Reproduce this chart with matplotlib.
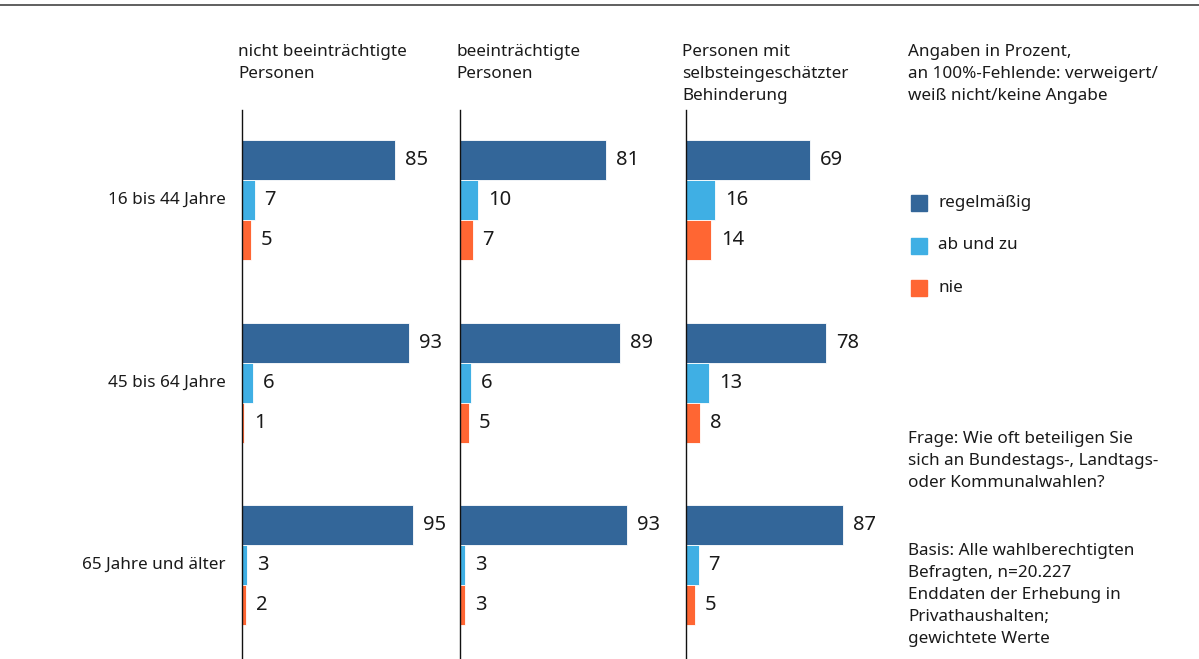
import matplotlib
matplotlib.use("Agg")
import matplotlib.pyplot as plt
from matplotlib.patches import Rectangle
from matplotlib.lines import Line2D

plt.rcParams["font.family"] = ["Noto Sans", "DejaVu Sans"]

altersgruppen = ["16 bis 44 Jahre", "45 bis 64 Jahre", "65 Jahre und älter"]
gruppen = ["nicht beeinträchtigte\nPersonen",
           "beeinträchtigte\nPersonen",
           "Personen mit\nselbsteingeschätzter\nBehinderung"]
kategorien = ["regelmäßig", "ab und zu", "nie"]

# Werte je Gruppe: [Altersgruppe][Kategorie]
nicht_beeintraechtigt = [[85, 7, 5], [93, 6, 1], [95, 3, 2]]
beeintraechtigt = [[81, 10, 7], [89, 6, 5], [93, 3, 3]]
behinderung = [[69, 16, 14], [78, 13, 8], [87, 7, 5]]
werte = [nicht_beeintraechtigt, beeintraechtigt, behinderung]

farben = ["#336699", "#3FAFE4", "#FF6633"]
textfarbe = "#1a1a1a"
fs = 12.3
ls = 1.49

W, H = 1199, 659
fig = plt.figure(figsize=(W / 100, H / 100), dpi=100)

# Linie oben
fig.add_artist(Line2D([0, 1], [1 - 5 / H, 1 - 5 / H], color="#444444", lw=1.2))

ax_links = [242, 460, 686]
px_pro_prozent = 1.8
ax_breite = 200
ax_oben, ax_unten = 110, H

bar_h = 40
gruppen_abstand = 182.5
erste_mitte = 200

for g, (x0, daten) in enumerate(zip(ax_links, werte)):
    ax = fig.add_axes([x0 / W, 1 - ax_unten / H, ax_breite / W, (ax_unten - ax_oben) / H])
    ax.set_xlim(0, ax_breite / px_pro_prozent)
    ax.set_ylim(ax_unten, ax_oben)
    ax.patch.set_alpha(0)
    for s in ["top", "right", "bottom"]:
        ax.spines[s].set_visible(False)
    ax.spines["left"].set_color("#111111")
    ax.spines["left"].set_linewidth(1.0)
    ax.set_xticks([])
    ax.set_yticks([])

    for a, reihe in enumerate(daten):
        mitte = erste_mitte + a * gruppen_abstand
        for k, v in enumerate(reihe):
            y = mitte + (k - 1) * bar_h
            ax.barh(y, v, height=bar_h, color=farben[k], edgecolor="white", linewidth=0.6)
            ax.text(v + 10 / px_pro_prozent, y, str(v), va="center", ha="left",
                    fontsize=14.5, color=textfarbe)
        if g == 0:
            ax.text(-16 / px_pro_prozent, mitte, altersgruppen[a], ha="right", va="center",
                    fontsize=fs, color=textfarbe, clip_on=False)

    fig.text((x0 - 4) / W, 1 - 44 / H, gruppen[g], ha="left", va="top",
             fontsize=fs, color=textfarbe, linespacing=ls)

fig.text(908 / W, 1 - 44 / H,
         "Angaben in Prozent,\nan 100%-Fehlende: verweigert/\nweiß nicht/keine Angabe",
         ha="left", va="top", fontsize=fs, color=textfarbe, linespacing=ls)

# Legende
for k, name in enumerate(kategorien):
    yc = 203 + k * 42.5
    fig.add_artist(Rectangle((911 / W, 1 - (yc + 8) / H), 16 / W, 16 / H,
                             transform=fig.transFigure, color=farben[k]))
    fig.text(938 / W, 1 - yc / H, name, ha="left", va="center",
             fontsize=fs, color=textfarbe)

fig.text(908 / W, 1 - 431 / H,
         "Frage: Wie oft beteiligen Sie\nsich an Bundestags-, Landtags-\noder Kommunalwahlen?",
         ha="left", va="top", fontsize=fs, color=textfarbe, linespacing=ls)

fig.text(908 / W, 1 - 543 / H,
         "Basis: Alle wahlberechtigten\nBefragten, n=20.227\nEnddaten der Erhebung in\n"
         "Privathaushalten;\ngewichtete Werte",
         ha="left", va="top", fontsize=fs, color=textfarbe, linespacing=ls)

fig.savefig("out.png", dpi=100)
